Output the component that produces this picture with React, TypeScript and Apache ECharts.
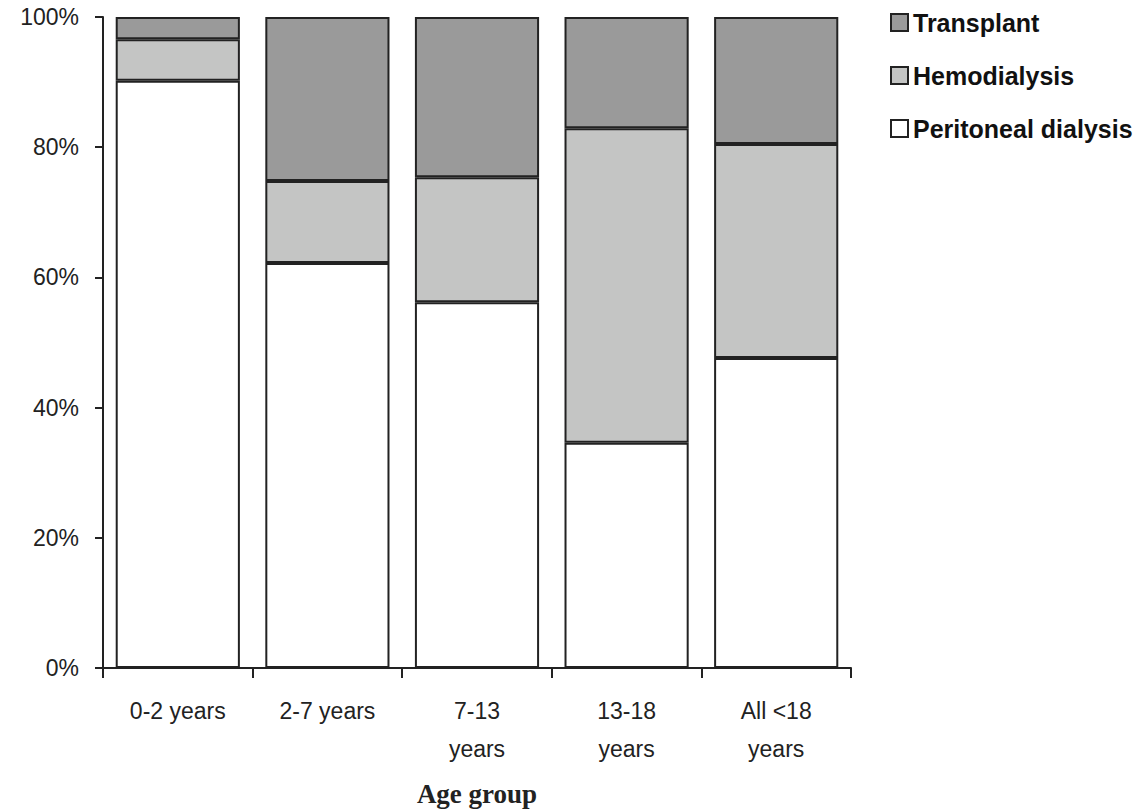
import React, { useEffect, useRef } from "react";
import * as echarts from "echarts";

const categories = ["0-2 years", "2-7 years", "7-13\nyears", "13-18\nyears", "All <18\nyears"];
const peritonealDialysis = [90.2, 62.2, 56.2, 34.6, 47.6];
const hemodialysis = [6.4, 12.6, 19.2, 48.3, 32.9];
const transplant = [3.4, 25.2, 24.6, 17.1, 19.5];
const legendNames = ["Transplant", "Hemodialysis", "Peritoneal dialysis"];

const INK = "#222222";
const FONT = "'Liberation Sans', Arial, sans-serif";

export default function App() {
  const ref = useRef<HTMLDivElement>(null);
  useEffect(() => {
    document.body.style.margin = "0";
    const chart = echarts.init(ref.current!, null, { renderer: "svg" });
    const barStyle = (color: string) => ({ color, borderColor: INK, borderWidth: 2 });
    chart.setOption({
      animation: false,
      backgroundColor: "#ffffff",
      textStyle: { fontFamily: FONT, color: INK },
      grid: { left: 103, right: 295, top: 17, bottom: 144, containLabel: false, outerBoundsMode: "none" },
      legend: {
        orient: "vertical",
        left: 885,
        top: 5,
        data: legendNames,
        itemWidth: 17,
        itemHeight: 17,
        itemGap: 28,
        icon: "rect",
        textStyle: { fontFamily: FONT, fontSize: 25, fontWeight: "bold", color: "#111111" },
      },
      xAxis: {
        type: "category",
        data: categories,
        name: "Age group",
        nameLocation: "middle",
        nameGap: 112,
        nameTextStyle: { fontFamily: "'Liberation Serif', 'Times New Roman', serif", fontWeight: "bold", fontSize: 27, color: INK },
        axisLine: { lineStyle: { color: INK, width: 2 } },
        axisTick: { show: true, length: 10, lineStyle: { color: INK, width: 2 } },
        axisLabel: { fontSize: 23, color: INK, lineHeight: 38, margin: 24, fontFamily: FONT, interval: 0 },
      },
      yAxis: {
        type: "value",
        min: 0,
        max: 100,
        interval: 20,
        splitLine: { show: false },
        axisLine: { show: true, lineStyle: { color: INK, width: 2 } },
        axisTick: { show: true, length: 8, lineStyle: { color: INK, width: 2 } },
        axisLabel: { formatter: "{value}%", fontSize: 23, color: INK, margin: 24, fontFamily: FONT },
      },
      series: [
        {
          name: "Peritoneal dialysis",
          type: "bar",
          stack: "total",
          barCategoryGap: "17%",
          data: peritonealDialysis,
          itemStyle: barStyle("#ffffff"),
        },
        {
          name: "Hemodialysis",
          type: "bar",
          stack: "total",
          data: hemodialysis,
          itemStyle: barStyle("#c4c5c4"),
        },
        {
          name: "Transplant",
          type: "bar",
          stack: "total",
          data: transplant,
          itemStyle: barStyle("#9a9a9a"),
        },
      ],
    });
    return () => chart.dispose();
  }, []);
  return <div ref={ref} style={{ width: 1146, height: 812 }} />;
}
